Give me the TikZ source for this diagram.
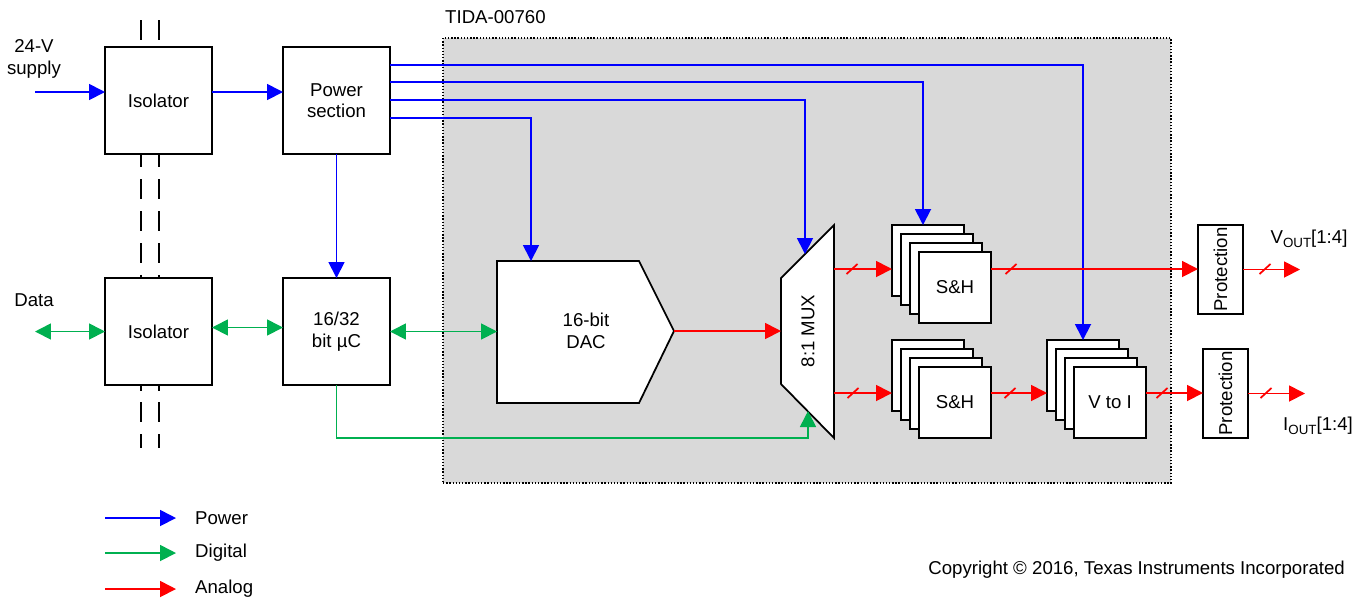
\documentclass[tikz,border=0pt]{standalone}
\usepackage{fontspec}
\setmainfont{Liberation Sans}
\usetikzlibrary{arrows.meta, positioning}
\definecolor{pwcol}{RGB}{0,0,255}
\definecolor{dgcol}{RGB}{0,176,80}
\definecolor{ancol}{RGB}{255,0,0}
\definecolor{tigray}{RGB}{217,217,217}

\begin{document}
\begin{tikzpicture}[
    x=0.02cm, y=-0.02cm,
    font=\fontsize{10.6}{12.2}\selectfont,
    box/.style={rectangle, draw=black, line width=1pt, fill=white, align=center,
                inner sep=0pt, outer sep=0pt, minimum width=2.14cm, minimum height=2.14cm},
    card/.style={box, minimum width=1.44cm, minimum height=1.42cm},
    prot/.style={box, minimum width=0.9cm, minimum height=1.78cm},
    outline/.style={draw=black, line width=1pt, fill=white},
    barrier/.style={line width=1.3pt, dash pattern=on 11.34pt off 6.8pt},
    pw/.style={-{Triangle[length=3.2mm, width=3.2mm]}, color=pwcol, line width=1pt},
    dg/.style={-{Triangle[length=3.2mm, width=3.2mm]}, color=dgcol, line width=1pt},
    dgb/.style={{Triangle[length=3.2mm, width=3.2mm]}-{Triangle[length=3.2mm, width=3.2mm]},
                color=dgcol, line width=1pt},
    an/.style={-{Triangle[length=3.2mm, width=3.2mm]}, color=ancol, line width=1pt}
]
\useasboundingbox (0,0) rectangle (1364,600);

% board area
\node[draw, densely dotted, line width=0.8pt, fill=tigray, minimum width=14.56cm,
      minimum height=8.9cm, inner sep=0pt] (tida) at (807,260.5) {};
\node[anchor=west] (tidalbl) at (439,17) {TIDA-00760};

% isolation barrier
\foreach \bx in {141,159}
    \draw[barrier] (\bx,20) -- (\bx,448);

% left blocks
\node[box] (iso1) at (158.5,100.5) {Isolator};
\node[box] (pwr) at (336.5,100.5) {Power\\section};
\node[box] (iso2) at (158.5,331.5) {Isolator};
\node[box] (mcu) at (336.5,331.5) {16/32\\bit µC};

\node[align=center] (suplbl) at (34,59) {24-V\\supply};
\node (datalbl) at (34,300) {Data};
\coordinate (sup) at (35,92);
\coordinate (data) at (35,331.5);

% DAC
\draw[outline] (497,261) -- (639,261) -- (674,331) -- (639,403) -- (497,403) -- cycle;
\node[align=center] (dac) at (586,331) {16-bit\\DAC};
\coordinate (dacin) at (497,331);
\coordinate (dacout) at (674,331);
\coordinate (dactop) at (531,261);

% MUX
\draw[outline] (781,278) -- (834,225) -- (834,438) -- (781,384) -- cycle;
\node[rotate=90] (mux) at (808,331) {8:1 MUX};
\coordinate (muxin) at (781,331);
\coordinate (muxo1) at (834,269);
\coordinate (muxo2) at (834,393);
\coordinate (muxtop) at (805,254);
\coordinate (muxbot) at (808,411);
\coordinate (gturn) at (808,438);

% channel stacks
\foreach \k in {0,1,2} {
    \node[card] (sha\k) at (928+9*\k,260.5+9*\k) {};
    \node[card] (shb\k) at (928+9*\k,375.5+9*\k) {};
    \node[card] (vi\k) at (1083+9*\k,375.5+9*\k) {};
}
\node[card] (sha3) at (955,287.5) {S\&H};
\node[card] (shb3) at (955,402.5) {S\&H};
\node[card] (vi3) at (1110,402.5) {V to I};

\node[prot] (prot1) at (1220.5,269.5) {\rotatebox{90}{Protection}};
\node[prot] (prot2) at (1225.5,393.5) {\rotatebox{90}{Protection}};
\coordinate (vout) at (1300,269.5);
\coordinate (iout) at (1305,393.5);
\node (voutlbl) at (1309,239) {V\raisebox{-0.35ex}{\fontsize{7.6}{8}\selectfont OUT}[1:4]};
\node (ioutlbl) at (1318,426) {I\raisebox{-0.35ex}{\fontsize{7.6}{8}\selectfont OUT}[1:4]};

% power
\draw[pw] (sup) -- (sup -| iso1.west);
\draw[pw] (sup -| iso1.east) -- (sup -| pwr.west);
\draw[pw] (pwr.south) -- (mcu.north);
\draw[pw] (pwr.north east) ++(0,18) -| (vi0.north);
\draw[pw] (pwr.north east) ++(0,35) -| ([xshift=-1mm]sha0.north);
\draw[pw] (pwr.north east) ++(0,53) -| (muxtop);
\draw[pw] (pwr.north east) ++(0,71) -| (dactop);

% digital
\draw[dgb] (data) -- (data -| iso2.west);
\draw[dgb] ([yshift=0.08cm]iso2.east) -- ([yshift=0.08cm]mcu.west);
\draw[dgb] (mcu.east) -- (mcu.east -| dacin);
\draw[dg] (mcu.south) |- (gturn) -- (muxbot);

% analog
\draw[an] (dacout) -- (muxin);
\draw[an] (muxo1) -- (muxo1 -| sha0.west);
\draw[an] (muxo1 -| sha3.east) -- (muxo1 -| prot1.west);
\draw[an] (prot1.east) -- (vout);
\draw[an] (muxo2) -- (muxo2 -| shb0.west);
\draw[an] (muxo2 -| shb3.east) -- (muxo2 -| vi0.west);
\draw[an] (muxo2 -| vi3.east) -- (muxo2 -| prot2.west);
\draw[an] (prot2.east) -- (iout);
\foreach \sx/\sy in {852/269, 1011/269, 1265/269, 853/393, 1010/393, 1162/393, 1266/393}
    \draw[ancol, line width=1pt] (\sx-5.5,\sy+5) -- (\sx+5.5,\sy-5);

% legend
\foreach \nm/\yy/\cl in {Power/518/pwcol, Digital/553/dgcol, Analog/589/ancol} {
    \coordinate (\nm a) at (105,\yy);
    \coordinate (\nm b) at (176,\yy);
    \draw[an, color=\cl] (\nm a) -- (\nm b);
    \node[right=0.26cm of \nm b] (\nm) {\nm};
}

\node[anchor=east] (copy) at (1351,570) {Copyright © 2016, Texas Instruments Incorporated};
\end{tikzpicture}
\end{document}
